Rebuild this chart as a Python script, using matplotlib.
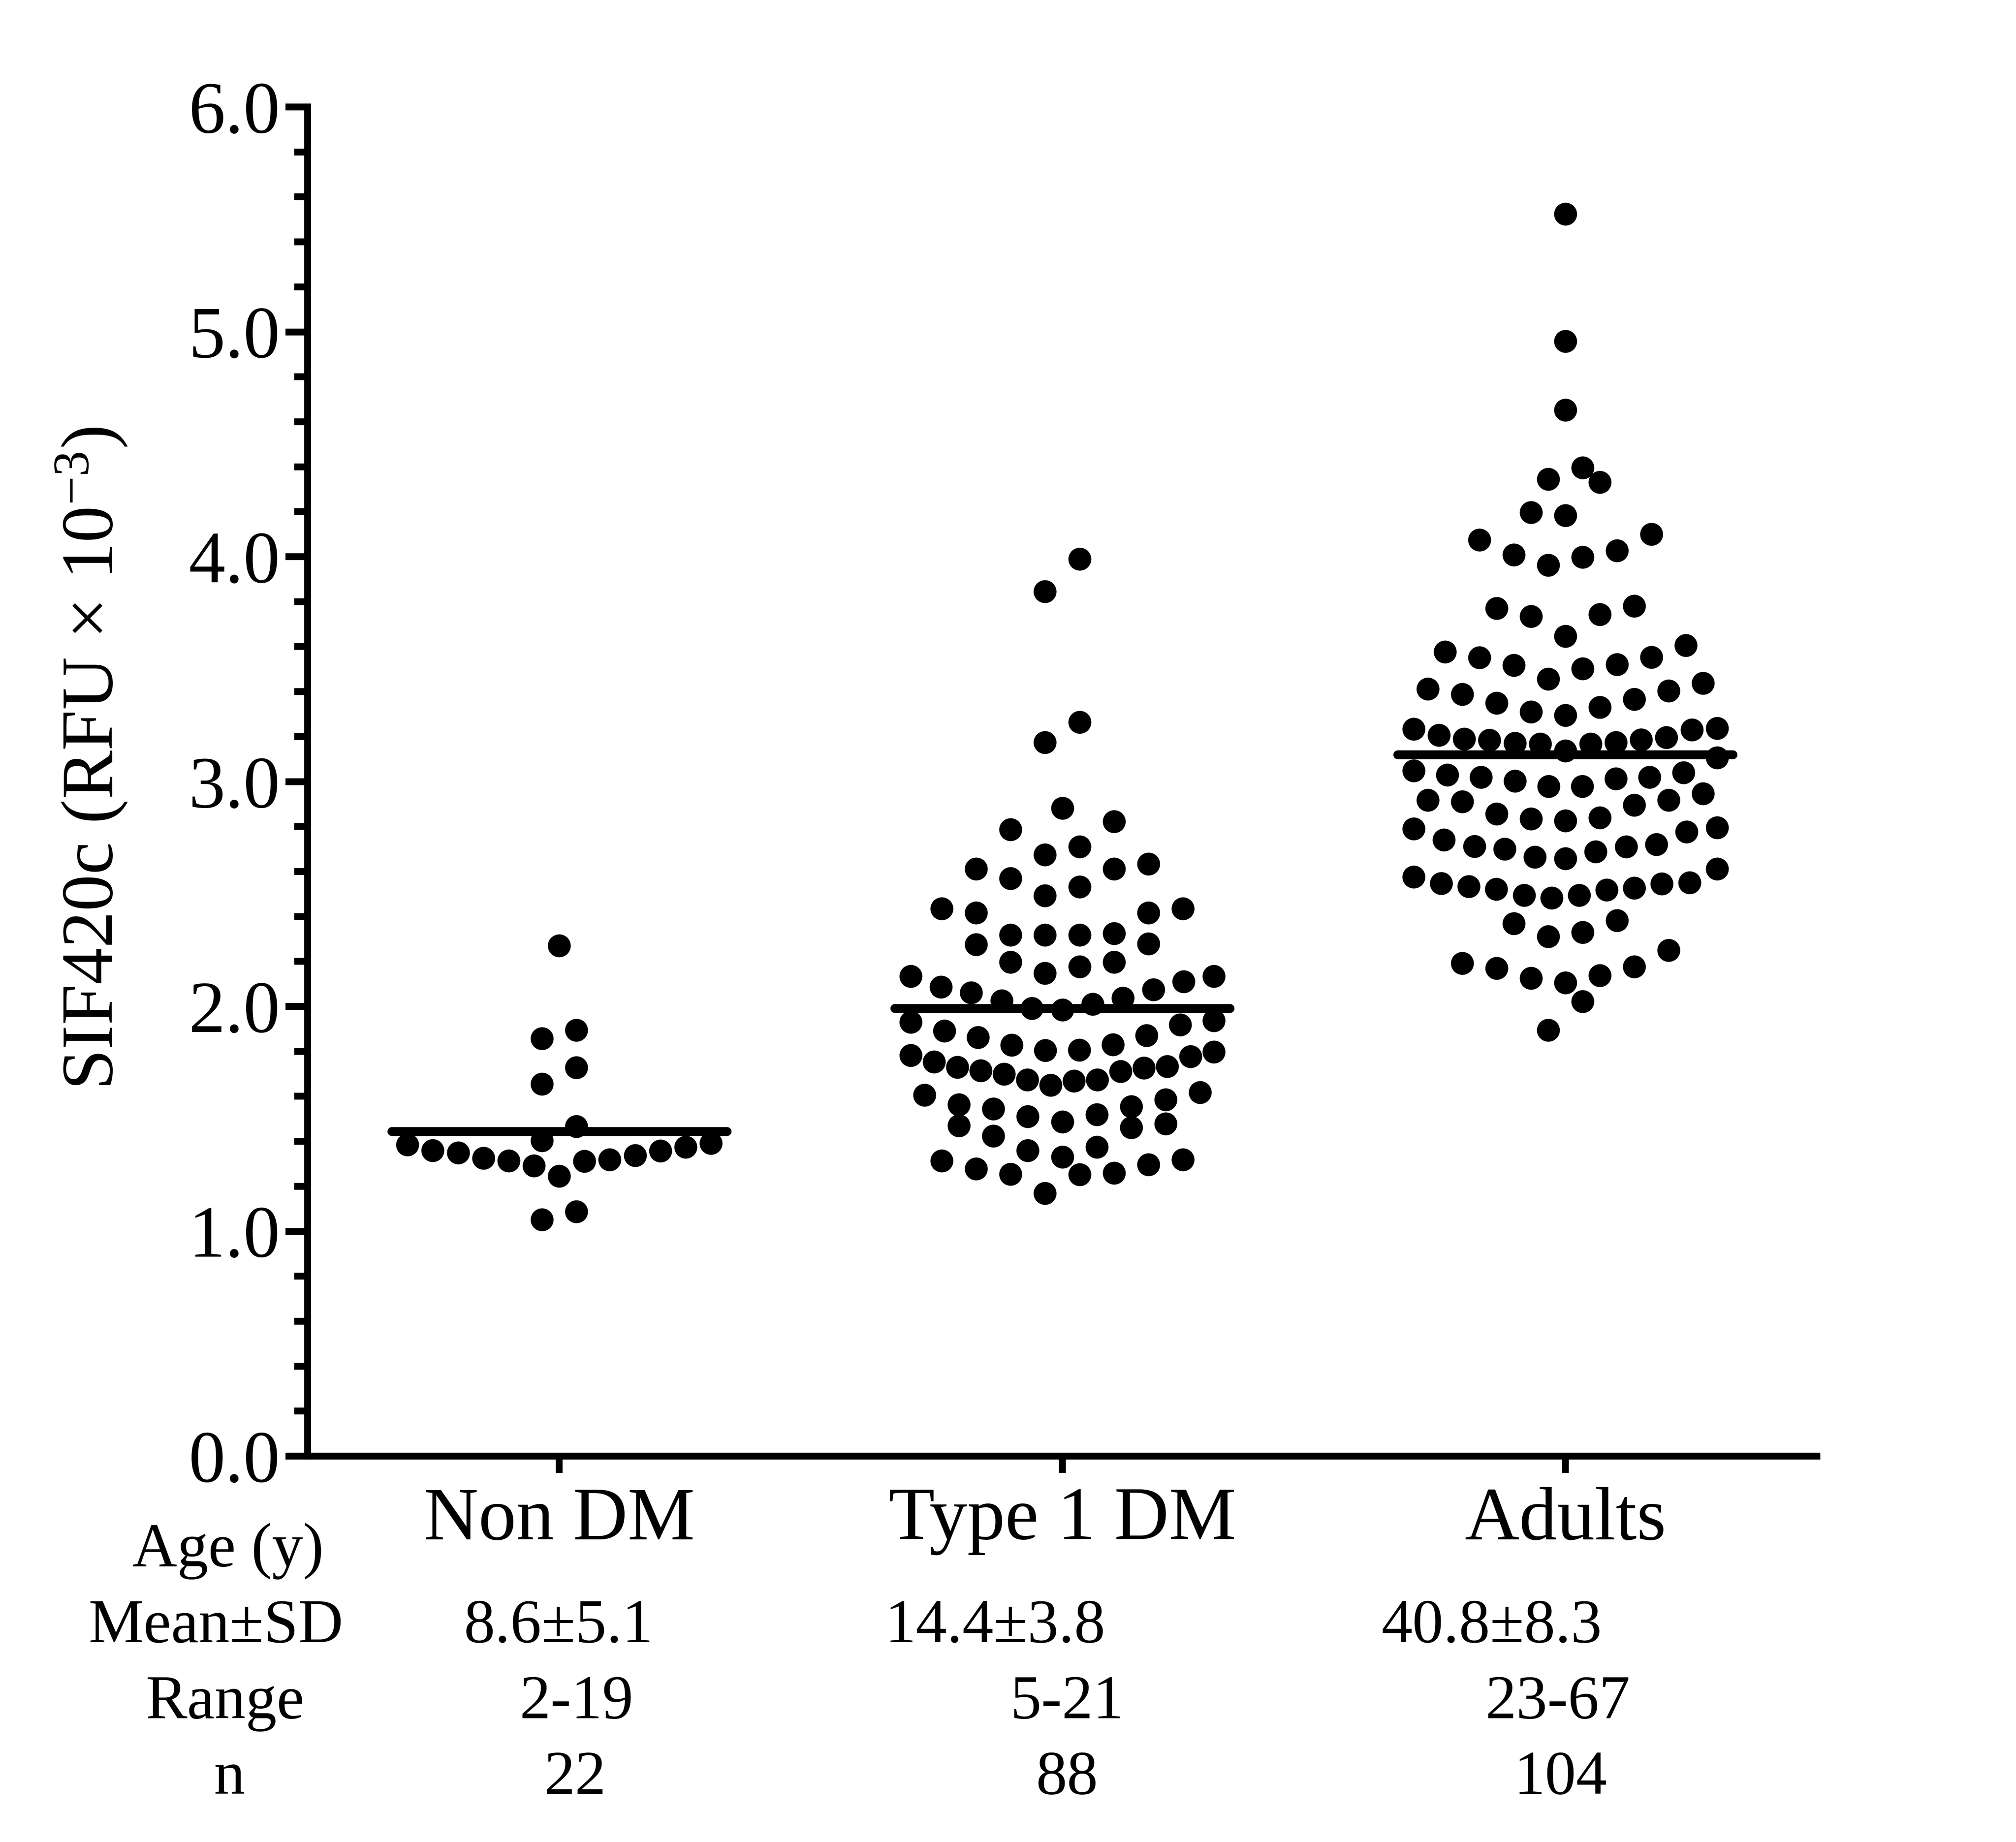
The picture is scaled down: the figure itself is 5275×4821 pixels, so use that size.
import numpy as np
import matplotlib
matplotlib.use("Agg")
import matplotlib.pyplot as plt
from matplotlib.ticker import MultipleLocator, FixedLocator

# ---------------- data ----------------
categories = ["Non DM", "Type 1 DM", "Adults"]

non_dm = [2.270, 1.894, 1.858, 1.728, 1.655, 1.467, 1.404,
          1.245, 1.291, 1.313, 1.326, 1.350, 1.360, 1.385,
          1.311, 1.319, 1.337, 1.357, 1.374, 1.392,
          1.051, 1.087]

type1_dm = [3.989, 3.846, 3.265, 3.175, 2.882, 2.823, 2.787, 2.711, 2.675,
            2.633, 2.612, 2.612, 2.569, 2.532, 2.493,
            2.435, 2.417, 2.417, 2.435, 2.325, 2.317, 2.317, 2.317,
            2.279, 2.276, 2.197, 2.176, 2.148, 2.197,
            2.134, 2.110, 2.086, 2.074, 2.061, 2.037, 2.026, 2.010, 1.991, 1.985, 2.134,
            1.937, 1.931, 1.918, 1.891, 1.871, 1.862, 1.830, 1.828, 1.806, 1.804,
            1.798, 1.782, 1.777, 1.754, 1.734, 1.730, 1.726, 1.715, 1.711, 1.700,
            1.674, 1.674, 1.669, 1.650,
            1.618, 1.606, 1.585, 1.563, 1.555, 1.544, 1.519, 1.511, 1.486,
            1.478, 1.470, 1.462, 1.424, 1.375, 1.359, 1.330,
            1.318, 1.313, 1.296, 1.278, 1.259, 1.254, 1.253, 1.169]

adults = [5.524, 4.959, 4.653, 4.396, 4.345, 4.331, 4.197, 4.183,
          4.101, 4.075, 4.027, 4.008, 3.999, 3.963,
          3.781, 3.770, 3.744, 3.735, 3.646,
          3.605, 3.577, 3.553, 3.552, 3.521, 3.517, 3.502, 3.457,
          3.438, 3.412, 3.403, 3.388, 3.366, 3.350, 3.330, 3.310, 3.295,
          3.237, 3.234, 3.231, 3.206, 3.196, 3.189, 3.186, 3.184, 3.175, 3.171,
          3.168, 3.168, 3.137,
          3.107, 3.049, 3.040, 3.029, 3.019, 3.019, 3.013, 3.002, 2.979, 2.979,
          2.947, 2.917, 2.917, 2.910, 2.896, 2.856, 2.840, 2.834, 2.826,
          2.796, 2.790, 2.776, 2.741, 2.720, 2.712, 2.711, 2.700, 2.689, 2.665, 2.657,
          2.611, 2.576, 2.551, 2.548, 2.545, 2.533, 2.527, 2.521, 2.518, 2.495, 2.494, 2.483,
          2.383, 2.368, 2.330, 2.311,
          2.249, 2.192, 2.176, 2.170, 2.138, 2.126, 2.105,
          2.022, 1.895]

groups = [non_dm, type1_dm, adults]

ytick_values = [0.0, 1.0, 2.0, 3.0, 4.0, 5.0, 6.0]
ytick_labels = ["0.0", "1.0", "2.0", "3.0", "4.0", "5.0", "6.0"]

row_headers = ["Age (y)", "Mean\u00b1SD", "Range", "n"]
age_mean_sd = ["8.6\u00b15.1", "14.4\u00b13.8", "40.8\u00b18.3"]
age_range = ["2-19", "5-21", "23-67"]
n_counts = ["22", "88", "104"]

# ---------------- style ----------------
plt.rcParams["font.family"] = ["Liberation Serif", "DejaVu Serif"]
plt.rcParams["mathtext.fontset"] = "custom"
plt.rcParams["mathtext.rm"] = "Liberation Serif"
plt.rcParams["mathtext.it"] = "Liberation Serif:italic"
plt.rcParams["mathtext.bf"] = "Liberation Serif:bold"

W_PX, H_PX, DPI = 5275, 4821, 300
AXIS_LW = 4.3


def column_offsets(values, row_height=0.15, step=0.0684, max_width=0.603):
    """Prism-like column scatter: group close values into rows and
    spread each row symmetrically about the column centre."""
    v = np.asarray(values, float)
    order = np.argsort(v, kind="stable")
    rows, cur, start = [], [], None
    for i in order:
        if start is None or v[i] - start > row_height + 1e-9:
            if cur:
                rows.append(cur)
            cur, start = [i], v[i]
        else:
            cur.append(i)
    if cur:
        rows.append(cur)
    offs = np.zeros(len(v))
    for r in rows:
        n = len(r)
        s = step if n < 2 else min(step, max_width / (n - 1))
        if n % 2 == 1:
            slots = [0.0]
            for k in range(1, n // 2 + 1):
                slots += [-k, k]
        else:
            slots = []
            for k in range(n // 2):
                slots += [-(k + 0.5), k + 0.5]
        for idx, sl in zip(r, slots):
            offs[idx] = sl * s
    return offs


fig = plt.figure(figsize=(W_PX / DPI, H_PX / DPI), dpi=DPI)
left, right = 805 / W_PX, 4754 / W_PX
bottom, top = 1 - 3811 / H_PX, 1 - 280 / H_PX
ax = fig.add_axes([left, bottom, right - left, top - bottom])

for i, vals in enumerate(groups):
    offs = column_offsets(vals)
    ax.scatter(i + offs, vals, s=207, color="black", linewidths=0, zorder=3)
    m = float(np.mean(vals))
    ax.plot([i - 0.333, i + 0.333], [m, m], color="black", lw=5.6,
            solid_capstyle="round", zorder=4)

ax.set_xlim(-0.5, 2.5)
ax.set_ylim(0, 6)

for side in ("top", "right"):
    ax.spines[side].set_visible(False)
for side in ("left", "bottom"):
    ax.spines[side].set_linewidth(AXIS_LW)

ax.yaxis.set_major_locator(FixedLocator(ytick_values))
ax.set_yticklabels(ytick_labels)
ax.yaxis.set_minor_locator(MultipleLocator(0.2))
ax.tick_params(axis="y", which="major", direction="out", length=13.9,
               width=AXIS_LW, pad=3.4, labelsize=46)
ax.tick_params(axis="y", which="minor", direction="out", length=8.4,
               width=AXIS_LW)

ax.set_xticks(range(len(categories)))
ax.set_xticklabels(categories)
ax.tick_params(axis="x", which="major", direction="out", length=10.6,
               width=AXIS_LW, pad=8.9, labelsize=47.5)

# y-axis label
fig.text(240 / W_PX, 1 - 1985 / H_PX, "SIF420c (RFU \u00d7 10$^{-3}$)",
         rotation=90, ha="center", va="center", fontsize=46)


def ftext(xpx, ypx, s, **kw):
    fig.text(xpx / W_PX, 1 - ypx / H_PX, s, ha="center", va="baseline",
             fontsize=39, **kw)


# table below the axis
header_x = [597, 565, 589, 600]
row_base = [4099, 4298, 4497, 4695]
for hx, hy, h in zip(header_x, row_base, row_headers):
    ftext(hx, hy, h)

for xpx, s in zip([1462, 2604, 3904], age_mean_sd):
    ftext(xpx, row_base[1], s)
for xpx, s in zip([1509, 2792, 4076], age_range):
    ftext(xpx, row_base[2], s)
for xpx, s in zip([1505, 2792, 4084], n_counts):
    ftext(xpx, row_base[3], s)

fig.savefig("out.png", dpi=DPI, facecolor="white")
